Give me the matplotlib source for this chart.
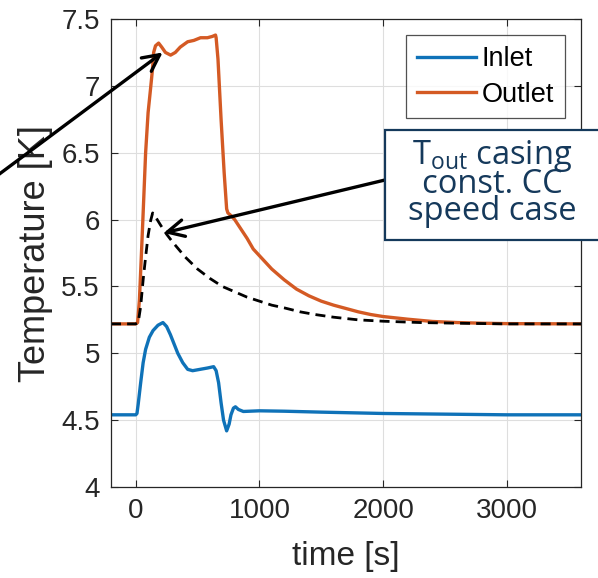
import matplotlib
matplotlib.use('Agg')
import matplotlib.pyplot as plt
from matplotlib.patches import Rectangle

plt.rcParams['font.family'] = ['Liberation Sans', 'DejaVu Sans']
plt.rcParams['mathtext.default'] = 'regular'

# data
t_out = [-200, 0, 15, 30, 45, 60, 80, 100, 120, 135, 145, 160, 185, 210, 240, 282, 320, 360,
         420, 470, 524, 580, 620, 645, 650, 665, 690, 715, 735, 745, 770, 800, 850, 900, 950,
         1000, 1100, 1200, 1300, 1400, 1500, 1600, 1700, 1800, 1900, 2000, 2200, 2400, 2600,
         2800, 3000, 3600]
T_out = [5.22, 5.22, 5.23, 5.40, 5.72, 6.05, 6.50, 6.80, 6.98, 7.12, 7.25, 7.30, 7.32, 7.29,
         7.25, 7.23, 7.25, 7.29, 7.33, 7.34, 7.36, 7.36, 7.37, 7.38, 7.36, 7.20, 6.75, 6.35,
         6.08, 6.05, 6.03, 6.00, 5.93, 5.86, 5.78, 5.73, 5.63, 5.55, 5.48, 5.43, 5.39, 5.36,
         5.335, 5.31, 5.29, 5.275, 5.255, 5.238, 5.23, 5.225, 5.222, 5.22]

t_case = [-200, 0, 20, 40, 60, 80, 100, 120, 137, 160, 200, 250, 300, 400, 500, 600, 700,
          800, 900, 1000, 1100, 1200, 1330, 1450, 1600, 1800, 2000, 2300, 2600, 3000, 3600]
T_case = [5.22, 5.22, 5.23, 5.35, 5.55, 5.72, 5.88, 5.99, 6.05, 6.02, 5.96, 5.89, 5.83,
          5.72, 5.63, 5.56, 5.50, 5.46, 5.42, 5.39, 5.36, 5.34, 5.31, 5.29, 5.27, 5.25,
          5.24, 5.23, 5.225, 5.22, 5.22]

t_in = [-200, 0, 10, 20, 40, 60, 80, 110, 140, 180, 220, 250, 280, 310, 340, 380, 420, 460,
        520, 580, 630, 650, 670, 690, 710, 735, 755, 770, 790, 806, 830, 870, 1000, 1200,
        1500, 2000, 2500, 3000, 3600]
T_in = [4.54, 4.54, 4.55, 4.62, 4.78, 4.93, 5.03, 5.12, 5.17, 5.21, 5.23, 5.20, 5.14, 5.07,
        5.00, 4.93, 4.88, 4.87, 4.88, 4.89, 4.90, 4.87, 4.78, 4.63, 4.50, 4.42, 4.47, 4.54,
        4.59, 4.60, 4.58, 4.565, 4.57, 4.567, 4.56, 4.55, 4.545, 4.54, 4.54]

fig = plt.figure(figsize=(5.98, 5.78), dpi=100)
ax = fig.add_axes([0.1856, 0.1574, 0.786, 0.8097])

ax.plot(t_in, T_in, color='#0f72b8', linewidth=2.4, label='Inlet')
ax.plot(t_out, T_out, color='#d45a24', linewidth=2.4, label='Outlet')
ax.plot(t_case, T_case, color='black', linewidth=2.0, linestyle=(0, (3.6, 2.2)))

ax.set_xlim(-200, 3600)
ax.set_ylim(4, 7.5)
ax.set_xticks([0, 1000, 2000, 3000])
ax.set_yticks([4, 4.5, 5, 5.5, 6, 6.5, 7, 7.5])
ax.set_yticklabels(['4', '4.5', '5', '5.5', '6', '6.5', '7', '7.5'])
ax.grid(True, color='#dedede', linewidth=0.8)
ax.set_axisbelow(True)
ax.tick_params(direction='in', length=5, labelsize=20, colors='#262626',
               top=True, right=True, pad=8)
for s in ax.spines.values():
    s.set_color('#262626')
    s.set_linewidth(0.9)

ax.set_xlabel('time [s]', fontsize=24, color='#262626', labelpad=12)
ax.set_ylabel('Temperature [K]', fontsize=26, color='#262626', labelpad=6)

leg = ax.legend(loc='upper right', fontsize=19.5, handlelength=2.2, frameon=True,
                fancybox=False, borderpad=0.4, labelspacing=0.35, handletextpad=0.2,
                borderaxespad=0.6)
leg.get_frame().set_edgecolor('#262626')
leg.get_frame().set_linewidth(0.9)

# annotation box (partly cut off by the right edge)
navy = '#15395b'
box = Rectangle((385 / 598, 1 - 240 / 578), 220 / 598, 110 / 578, transform=fig.transFigure,
                facecolor='white', edgecolor=navy, linewidth=1.6, clip_on=False, zorder=5)
fig.add_artist(box)
fig.text(492 / 598, 1 - 183 / 578, 'T$_{out}$ casing\nconst. CC\nspeed case',
         ha='center', va='center', fontsize=23.5, color=navy, family='Open Sans',
         linespacing=0.76, zorder=6)

arrow = dict(arrowstyle='->', color='black', linewidth=2.4, mutation_scale=30,
             shrinkA=0, shrinkB=0)
ax.annotate('', xy=(218, 7.25), xycoords='data',
            xytext=(-0.01, 1 - 178 / 578), textcoords='figure fraction',
            arrowprops=arrow, annotation_clip=False)
ax.annotate('', xy=(226, 5.90), xycoords='data',
            xytext=(385 / 598, 1 - 180 / 578), textcoords='figure fraction',
            arrowprops=arrow, annotation_clip=False)

fig.savefig('out.png', dpi=100)
